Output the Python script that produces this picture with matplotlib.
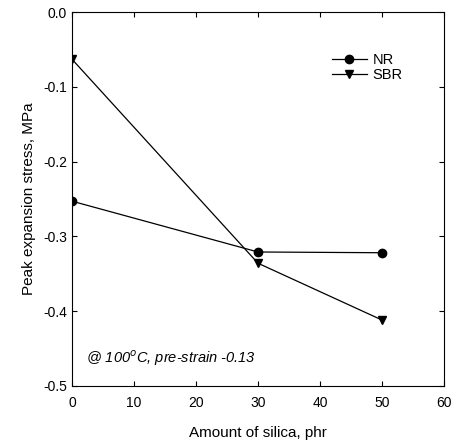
import numpy as np
from matplotlib import pyplot as plt

plt.rcParams['font.family'] = ['Liberation Sans', 'DejaVu Sans']

# Data
silica = [0, 30, 50]
nr_stress = [-0.253, -0.321, -0.322]
sbr_stress = [-0.063, -0.336, -0.412]

fig = plt.figure(figsize=(4.61, 4.46), dpi=100)
ax = fig.add_axes([0.156, 0.135, 0.807, 0.838])

ax.plot(silica, nr_stress, color='black', lw=0.9, marker='o', ms=6, label='NR')
ax.plot(silica, sbr_stress, color='black', lw=0.9, marker='v', ms=6, label='SBR')

ax.set_xlim(0, 60)
ax.set_ylim(-0.5, 0.0)
ax.set_xticks(np.arange(0, 61, 10))
ax.set_yticks(np.arange(-0.5, 0.01, 0.1))
ax.set_yticklabels(['-0.5', '-0.4', '-0.3', '-0.2', '-0.1', '0.0'])
ax.tick_params(direction='in', top=True, right=True, labelsize=10, length=3.5)
ax.tick_params(axis='x', pad=7)

ax.set_xlabel('Amount of silica, phr', fontsize=11, labelpad=12)
ax.set_ylabel('Peak expansion stress, MPa', fontsize=11, labelpad=5)

ax.text(2.3, -0.463, '@ 100$^o$C, pre-strain -0.13', style='italic', fontsize=10.5, va='center')

ax.legend(loc='upper right', bbox_to_anchor=(0.925, 0.925), frameon=False, fontsize=10.5,
          handlelength=2.4, handletextpad=0.4, labelspacing=0.08)

fig.savefig('out.png', dpi=100)
